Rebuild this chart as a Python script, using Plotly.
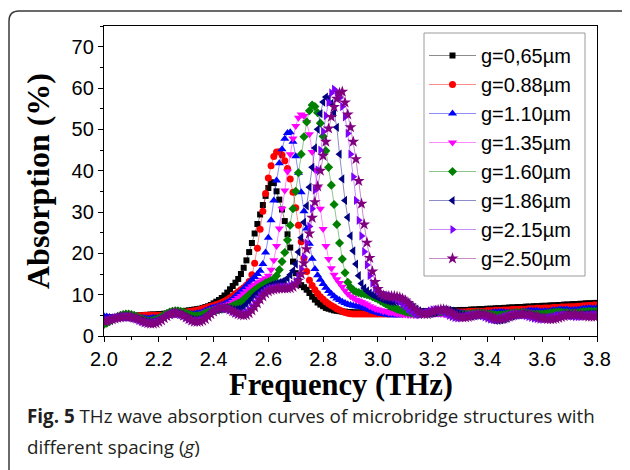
import numpy as np
import plotly.graph_objects as go

# Frequency grid (THz), 0.01 THz sampling
freq = np.round(2.0 + 0.01 * np.arange(181), 2)

labels = ["g=0,65µm", "g=0.88µm", "g=1.10µm", "g=1.35µm",
          "g=1.60µm", "g=1.86µm", "g=2.15µm", "g=2.50µm"]

g065 = [4.5, 4.5, 4.5, 4.6, 4.6, 4.6, 4.7, 4.7, 4.7, 4.8,
        4.8, 4.9, 4.9, 5.0, 5.0, 5.1, 5.1, 5.2, 5.2, 5.2,
        5.3, 5.3, 5.4, 5.4, 5.5, 5.6, 5.7, 5.8, 5.9, 6.0,
        6.1, 6.2, 6.3, 6.4, 6.5, 6.6, 6.8, 7.0, 7.2, 7.5,
        7.9, 8.3, 8.7, 9.2, 9.8, 10.5, 11.3, 12.1, 12.9, 13.8,
        15.0, 16.5, 18.3, 20.3, 22.5, 24.8, 27.1, 29.4, 31.7, 33.9,
        35.8, 37.2, 37.0, 35.0, 33.0, 30.6, 27.8, 24.6, 21.4, 18.0,
        15.2, 13.3, 12.3, 11.8, 11.2, 10.4, 9.5, 8.8, 8.1, 7.6,
        7.2, 6.8, 6.6, 6.4, 6.2, 6.1, 6.0, 5.9, 5.9, 5.8,
        5.8, 5.7, 5.7, 5.7, 5.7, 5.7, 5.7, 5.7, 5.7, 5.7,
        5.7, 5.7, 5.7, 5.7, 5.7, 5.8, 5.8, 5.8, 5.8, 5.8,
        5.8, 5.8, 5.9, 5.9, 5.9, 5.9, 5.9, 6.0, 6.0, 6.0,
        6.0, 6.0, 6.1, 6.1, 6.1, 6.1, 6.2, 6.2, 6.2, 6.2,
        6.3, 6.3, 6.3, 6.3, 6.4, 6.4, 6.4, 6.5, 6.5, 6.5,
        6.6, 6.6, 6.6, 6.7, 6.7, 6.7, 6.8, 6.8, 6.9, 6.9,
        6.9, 7.0, 7.0, 7.0, 7.1, 7.1, 7.1, 7.2, 7.2, 7.2,
        7.3, 7.3, 7.3, 7.4, 7.4, 7.4, 7.5, 7.5, 7.6, 7.6,
        7.6, 7.7, 7.7, 7.7, 7.8, 7.8, 7.9, 7.9, 7.9, 8.0,
        8.0]

g088 = [4.4, 4.4, 4.4, 4.4, 4.5, 4.5, 4.5, 4.6, 4.6, 4.7,
        4.7, 4.8, 4.8, 4.9, 4.9, 5.0, 5.0, 5.0, 5.0, 5.0,
        5.0, 5.0, 5.1, 5.1, 5.2, 5.3, 5.4, 5.5, 5.6, 5.7,
        5.8, 5.9, 6.0, 6.1, 6.2, 6.4, 6.6, 6.8, 7.0, 7.2,
        7.4, 7.6, 7.8, 8.1, 8.4, 8.8, 9.2, 9.7, 10.2, 10.7,
        11.2, 11.7, 12.3, 13.2, 14.8, 17.6, 21.2, 25.8, 30.2, 34.5,
        38.2, 41.2, 43.4, 44.5, 44.6, 43.8, 42.4, 40.5, 38.0, 34.8,
        31.0, 26.8, 22.8, 18.8, 15.6, 13.5, 12.2, 11.2, 10.3, 9.5,
        8.9, 8.3, 7.8, 7.4, 7.0, 6.6, 6.3, 6.0, 5.7, 5.5,
        5.4, 5.3, 5.3, 5.3, 5.3, 5.3, 5.3, 5.3, 5.3, 5.3,
        5.3, 5.3, 5.3, 5.3, 5.3, 5.4, 5.4, 5.4, 5.4, 5.4,
        5.4, 5.4, 5.4, 5.5, 5.5, 5.5, 5.5, 5.5, 5.5, 5.5,
        5.6, 5.6, 5.6, 5.6, 5.6, 5.7, 5.7, 5.7, 5.7, 5.8,
        5.8, 5.8, 5.8, 5.9, 5.9, 5.9, 6.0, 6.0, 6.0, 6.0,
        6.1, 6.1, 6.1, 6.2, 6.2, 6.2, 6.3, 6.3, 6.3, 6.4,
        6.4, 6.4, 6.5, 6.5, 6.5, 6.6, 6.6, 6.6, 6.7, 6.7,
        6.7, 6.8, 6.8, 6.8, 6.9, 6.9, 6.9, 7.0, 7.0, 7.0,
        7.1, 7.1, 7.1, 7.2, 7.2, 7.3, 7.3, 7.4, 7.4, 7.5,
        7.5]

g110 = [4.8, 4.7, 4.6, 4.5, 4.5, 4.5, 4.5, 4.6, 4.6, 4.6,
        4.6, 4.5, 4.5, 4.4, 4.4, 4.3, 4.3, 4.3, 4.4, 4.4,
        4.5, 4.6, 4.8, 5.0, 5.2, 5.3, 5.4, 5.4, 5.4, 5.4,
        5.4, 5.4, 5.4, 5.4, 5.5, 5.6, 5.8, 6.1, 6.4, 6.7,
        6.9, 7.1, 7.3, 7.5, 7.8, 8.1, 8.5, 9.0, 9.6, 10.2,
        10.8, 11.5, 12.2, 12.9, 13.6, 14.3, 15.0, 15.8, 17.4, 20.2,
        23.8, 28.0, 32.8, 37.6, 41.8, 45.2, 47.7, 49.1, 49.3, 47.0,
        43.5, 39.5, 34.8, 30.2, 26.0, 22.3, 18.7, 16.2, 14.7, 13.6,
        12.6, 11.7, 10.9, 10.2, 9.6, 9.1, 8.7, 8.3, 8.0, 7.7,
        7.5, 7.3, 7.2, 7.1, 7.0, 6.8, 6.6, 6.3, 6.0, 5.8,
        5.6, 5.4, 5.3, 5.2, 5.1, 5.0, 5.0, 5.0, 5.0, 5.1,
        5.1, 5.2, 5.2, 5.3, 5.3, 5.3, 5.3, 5.3, 5.2, 5.2,
        5.2, 5.2, 5.2, 5.3, 5.3, 5.4, 5.5, 5.5, 5.6, 5.6,
        5.6, 5.5, 5.5, 5.4, 5.4, 5.3, 5.3, 5.3, 5.4, 5.4,
        5.5, 5.6, 5.7, 5.8, 5.8, 5.8, 5.8, 5.7, 5.7, 5.7,
        5.7, 5.7, 5.8, 5.9, 6.0, 6.1, 6.1, 6.1, 6.1, 6.0,
        6.0, 6.0, 6.0, 6.1, 6.2, 6.3, 6.4, 6.4, 6.4, 6.4,
        6.3, 6.3, 6.3, 6.4, 6.5, 6.6, 6.7, 6.7, 6.7, 6.7,
        6.7]

g135 = [3.6, 3.7, 3.8, 4.0, 4.2, 4.3, 4.5, 4.6, 4.6, 4.6,
        4.5, 4.4, 4.2, 4.0, 3.8, 3.7, 3.6, 3.6, 3.7, 3.9,
        4.1, 4.4, 4.7, 5.0, 5.2, 5.4, 5.5, 5.5, 5.4, 5.3,
        5.1, 5.0, 4.9, 4.9, 5.0, 5.2, 5.4, 5.7, 6.0, 6.3,
        6.5, 6.7, 6.9, 7.1, 7.3, 7.5, 7.8, 8.2, 8.7, 9.2,
        9.7, 10.3, 10.9, 11.5, 12.0, 12.4, 12.8, 13.2, 13.6, 14.0,
        14.6, 16.0, 18.3, 21.8, 26.0, 30.8, 35.2, 39.8, 44.0, 47.8,
        50.8, 52.8, 53.6, 53.2, 51.8, 48.8, 44.5, 40.2, 35.8, 30.8,
        25.9, 21.8, 18.6, 16.4, 14.8, 13.7, 12.8, 11.9, 11.0, 10.2,
        9.6, 9.2, 8.8, 8.5, 8.2, 7.9, 7.6, 7.2, 6.9, 6.6,
        6.4, 6.2, 6.0, 5.9, 5.7, 5.6, 5.5, 5.4, 5.3, 5.2,
        5.2, 5.1, 5.1, 5.1, 5.1, 5.2, 5.2, 5.3, 5.3, 5.4,
        5.4, 5.4, 5.4, 5.3, 5.3, 5.2, 5.1, 5.1, 5.0, 5.0,
        5.0, 5.1, 5.1, 5.2, 5.3, 5.3, 5.4, 5.4, 5.3, 5.3,
        5.2, 5.1, 5.0, 4.9, 4.9, 4.9, 5.0, 5.1, 5.2, 5.3,
        5.4, 5.4, 5.5, 5.5, 5.4, 5.3, 5.2, 5.1, 5.0, 5.0,
        5.0, 5.0, 5.1, 5.2, 5.3, 5.4, 5.5, 5.5, 5.5, 5.5,
        5.4, 5.4, 5.4, 5.4, 5.5, 5.5, 5.6, 5.6, 5.7, 5.7,
        5.7]

g160 = [2.8, 3.1, 3.5, 3.9, 4.3, 4.7, 5.0, 5.2, 5.3, 5.3,
        5.2, 5.0, 4.7, 4.4, 4.1, 3.8, 3.7, 3.7, 3.8, 4.0,
        4.3, 4.7, 5.1, 5.5, 5.8, 6.0, 6.1, 6.1, 6.0, 5.8,
        5.5, 5.2, 5.0, 4.9, 4.9, 5.0, 5.2, 5.5, 5.8, 6.0,
        6.2, 6.3, 6.4, 6.5, 6.6, 6.8, 7.0, 7.3, 7.6, 7.9,
        8.3, 8.8, 9.4, 10.0, 10.6, 11.1, 11.6, 12.0, 12.4, 12.8,
        13.1, 13.4, 13.8, 14.6, 16.0, 18.0, 20.2, 23.2, 26.8, 30.8,
        35.0, 39.5, 44.0, 48.2, 51.8, 54.5, 55.9, 55.5, 54.0, 51.5,
        48.3, 44.8, 40.8, 36.5, 31.8, 27.0, 22.5, 18.6, 15.3, 13.0,
        11.8, 11.1, 10.7, 10.5, 10.3, 10.2, 10.0, 9.8, 9.5, 9.2,
        8.9, 8.5, 8.1, 7.7, 7.4, 7.1, 6.8, 6.5, 6.3, 6.1,
        5.9, 5.7, 5.6, 5.5, 5.4, 5.4, 5.4, 5.4, 5.5, 5.5,
        5.6, 5.7, 5.8, 5.8, 5.8, 5.7, 5.6, 5.5, 5.4, 5.3,
        5.2, 5.2, 5.2, 5.3, 5.4, 5.5, 5.6, 5.6, 5.6, 5.5,
        5.4, 5.3, 5.2, 5.1, 5.1, 5.1, 5.2, 5.3, 5.4, 5.5,
        5.6, 5.7, 5.7, 5.7, 5.6, 5.5, 5.4, 5.3, 5.3, 5.3,
        5.3, 5.4, 5.5, 5.6, 5.7, 5.8, 5.8, 5.8, 5.7, 5.7,
        5.6, 5.6, 5.6, 5.7, 5.8, 5.9, 5.9, 6.0, 6.0, 6.0,
        6.0]

g186 = [3.9, 4.0, 4.1, 4.3, 4.4, 4.5, 4.6, 4.6, 4.6, 4.5,
        4.4, 4.2, 4.0, 3.8, 3.6, 3.4, 3.3, 3.3, 3.4, 3.6,
        3.9, 4.2, 4.6, 5.0, 5.3, 5.4, 5.4, 5.3, 5.1, 4.8,
        4.5, 4.2, 4.0, 3.9, 3.9, 4.0, 4.3, 4.7, 5.2, 5.7,
        6.1, 6.4, 6.6, 6.7, 6.7, 6.6, 6.5, 6.4, 6.4, 6.5,
        6.7, 7.1, 7.7, 8.4, 9.1, 9.8, 10.4, 10.9, 11.3, 11.7,
        12.0, 12.3, 12.5, 12.7, 12.9, 13.1, 13.4, 14.0, 14.8, 15.8,
        17.4, 20.3, 23.8, 27.5, 31.5, 36.0, 40.8, 45.5, 50.0, 53.8,
        56.6, 57.8, 57.5, 56.3, 54.0, 50.5, 44.0, 38.0, 32.8, 28.7,
        24.2, 20.6, 17.4, 14.6, 12.7, 11.6, 10.9, 10.4, 10.0, 9.7,
        9.4, 9.1, 8.8, 8.6, 8.4, 8.3, 8.3, 8.3, 8.3, 8.2,
        8.0, 7.7, 7.3, 6.9, 6.5, 6.1, 5.8, 5.6, 5.5, 5.5,
        5.6, 5.8, 6.0, 6.2, 6.3, 6.3, 6.2, 6.0, 5.8, 5.5,
        5.2, 5.0, 4.9, 4.8, 4.8, 4.9, 5.0, 5.0, 4.9, 4.7,
        4.4, 4.1, 3.9, 3.8, 3.8, 3.9, 4.1, 4.3, 4.6, 4.8,
        5.0, 5.1, 5.2, 5.2, 5.1, 5.0, 4.8, 4.6, 4.5, 4.4,
        4.3, 4.3, 4.4, 4.5, 4.7, 4.9, 5.0, 5.1, 5.1, 5.1,
        5.0, 4.9, 4.9, 4.9, 5.0, 5.1, 5.2, 5.3, 5.3, 5.3,
        5.3]

g215 = [3.7, 3.8, 3.9, 4.1, 4.3, 4.4, 4.5, 4.6, 4.6, 4.6,
        4.5, 4.3, 4.1, 3.8, 3.5, 3.3, 3.2, 3.1, 3.2, 3.3,
        3.6, 4.0, 4.4, 4.9, 5.2, 5.4, 5.5, 5.4, 5.2, 4.9,
        4.5, 4.1, 3.8, 3.6, 3.6, 3.7, 3.9, 4.3, 4.8, 5.4,
        5.9, 6.3, 6.6, 6.8, 6.8, 6.6, 6.3, 5.9, 5.6, 5.4,
        5.3, 5.4, 5.7, 6.3, 7.1, 8.0, 8.9, 9.7, 10.4, 10.9,
        11.3, 11.5, 11.6, 11.7, 11.8, 11.8, 11.8, 11.9, 12.1, 12.5,
        13.2, 14.4, 16.2, 19.1, 22.5, 26.5, 30.8, 35.3, 40.2, 45.0,
        49.5, 53.3, 56.5, 58.8, 59.7, 59.0, 57.6, 55.5, 53.0, 49.0,
        44.0, 38.5, 32.8, 28.0, 24.2, 20.4, 17.2, 14.6, 12.8, 11.6,
        10.8, 10.3, 10.0, 9.8, 9.7, 9.5, 9.2, 8.8, 8.3, 7.7,
        7.1, 6.5, 6.0, 5.6, 5.3, 5.2, 5.3, 5.5, 5.8, 6.1,
        6.3, 6.4, 6.3, 6.1, 5.8, 5.4, 5.0, 4.7, 4.5, 4.4,
        4.4, 4.5, 4.7, 4.9, 5.1, 5.2, 5.2, 5.1, 4.9, 4.6,
        4.3, 4.1, 4.0, 4.0, 4.1, 4.3, 4.6, 4.8, 5.0, 5.2,
        5.3, 5.3, 5.2, 5.1, 4.9, 4.7, 4.5, 4.3, 4.2, 4.1,
        4.1, 4.2, 4.3, 4.5, 4.7, 4.9, 5.0, 5.1, 5.1, 5.0,
        4.9, 4.8, 4.7, 4.7, 4.7, 4.8, 4.9, 5.0, 5.1, 5.1,
        5.1]

g250 = [3.5, 3.6, 3.8, 4.0, 4.2, 4.4, 4.5, 4.6, 4.7, 4.7,
        4.6, 4.4, 4.2, 3.9, 3.6, 3.3, 3.1, 3.0, 3.0, 3.1,
        3.4, 3.8, 4.3, 4.8, 5.2, 5.5, 5.6, 5.5, 5.3, 4.9,
        4.5, 4.1, 3.7, 3.5, 3.4, 3.5, 3.7, 4.1, 4.7, 5.3,
        5.9, 6.4, 6.7, 6.9, 6.9, 6.7, 6.4, 6.0, 5.6, 5.3,
        5.1, 5.0, 5.1, 5.5, 6.2, 7.0, 7.9, 8.8, 9.6, 10.3,
        10.8, 11.1, 11.3, 11.4, 11.5, 11.5, 11.5, 11.5, 11.6, 11.9,
        12.4, 13.4, 15.0, 17.6, 21.0, 24.8, 28.6, 32.4, 36.2, 40.0,
        43.6, 47.0, 50.2, 53.0, 55.4, 57.4, 58.8, 59.1, 56.5, 53.6,
        50.5, 47.0, 42.8, 37.5, 32.0, 27.0, 22.6, 18.9, 15.6, 13.1,
        11.4, 10.3, 9.8, 9.6, 9.6, 9.6, 9.6, 9.5, 9.3, 9.0,
        8.6, 8.0, 7.4, 6.8, 6.2, 5.7, 5.4, 5.3, 5.3, 5.5,
        5.8, 6.1, 6.3, 6.4, 6.4, 6.2, 5.9, 5.5, 5.1, 4.8,
        4.6, 4.5, 4.5, 4.6, 4.8, 5.0, 5.2, 5.3, 5.3, 5.2,
        5.0, 4.7, 4.4, 4.2, 4.1, 4.1, 4.2, 4.4, 4.7, 4.9,
        5.1, 5.2, 5.3, 5.3, 5.3, 5.2, 5.1, 4.9, 4.7, 4.5,
        4.3, 4.2, 4.1, 4.1, 4.1, 4.2, 4.4, 4.6, 4.8, 5.0,
        5.1, 5.2, 5.2, 5.1, 5.0, 4.9, 4.8, 4.7, 4.7, 4.7,
        4.8]

series = [g065, g088, g110, g135, g160, g186, g215, g250]
colors = ["#000000", "#FF0000", "#0000FF", "#FF00FF",
          "#008000", "#000080", "#8000FF", "#800080"]
line_colors = ["rgba(0,0,0,0.45)", "rgba(255,0,0,0.45)", "rgba(0,0,255,0.45)",
               "rgba(255,0,255,0.45)", "rgba(0,128,0,0.45)", "rgba(0,0,128,0.45)",
               "rgba(128,0,255,0.45)", "rgba(128,0,128,0.45)"]
symbols = ["square", "circle", "triangle-up", "triangle-down",
           "diamond", "triangle-left", "triangle-right", "star"]
sizes = [6, 7, 8, 8, 7, 8, 8, 9]

fig = go.Figure()
for lab, ys, c, lc, s, sz in zip(labels, series, colors, line_colors, symbols, sizes):
    fig.add_trace(go.Scatter(
        x=freq, y=ys, name=lab, mode="lines+markers",
        line=dict(color=lc, width=1),
        marker=dict(symbol=s, size=sz, color=c, line=dict(width=0)),
    ))

# The page body has an 8px default margin, so the figure is drawn 8px smaller and
# positions below are given in page pixels (plot area: x 104..597, y 26..336).
def px(xp):
    return (xp - 104) / 493.0

def py(yp):
    return (336 - yp) / 310.0

frame_path = (f"M {px(9)},{py(480)} L {px(9)},{py(21)} "
              f"Q {px(9)},{py(11)} {px(19)},{py(11)} L {px(650)},{py(11)}")

fig.update_layout(
    width=622, height=462,
    margin=dict(l=96, r=33, t=18, b=134),
    paper_bgcolor="white", plot_bgcolor="white",
    showlegend=True,
    legend=dict(
        x=px(424), y=py(36), xanchor="left", yanchor="top",
        bgcolor="rgba(0,0,0,0)", borderwidth=0,
        font=dict(family="Liberation Sans, Arial, sans-serif", size=20, color="black"),
        itemwidth=47, tracegroupgap=0,
    ),
    xaxis=dict(
        range=[2.0, 3.8], dtick=0.2, tick0=2.0, tickformat=".1f",
        showline=True, linecolor="black", linewidth=1.3, mirror=True,
        ticks="outside", ticklen=5, tickwidth=1.2, tickcolor="black",
        minor=dict(dtick=0.1, ticks="outside", ticklen=3, tickcolor="black", tickwidth=1),
        showgrid=False, zeroline=False,
        tickfont=dict(family="Liberation Sans, Arial, sans-serif", size=20, color="black"),
    ),
    yaxis=dict(
        range=[0, 75], dtick=10, tick0=0,
        showline=True, linecolor="black", linewidth=1.3, mirror=True,
        ticks="outside", ticklen=5, tickwidth=1.2, tickcolor="black",
        minor=dict(dtick=5, ticks="outside", ticklen=3, tickcolor="black", tickwidth=1),
        showgrid=False, zeroline=False,
        tickfont=dict(family="Liberation Sans, Arial, sans-serif", size=20, color="black"),
        title=dict(text="<b>Absorption (%)</b>", standoff=12,
                   font=dict(family="Liberation Serif, Times New Roman, serif", size=32, color="black")),
    ),
    shapes=[
        dict(type="path", xref="paper", yref="paper", path=frame_path,
             line=dict(color="#3a3a3a", width=1.5), layer="above"),
        dict(type="rect", xref="paper", yref="paper",
             x0=px(424), x1=px(585), y0=py(276), y1=py(33),
             line=dict(color="#9a9a9a", width=1), fillcolor="white", layer="below"),
    ],
    annotations=[
        dict(xref="paper", yref="paper", x=px(341), y=py(385), xanchor="center", yanchor="middle",
             text="<b>Frequency (THz)</b>", showarrow=False, borderpad=0,
             font=dict(family="Liberation Serif, Times New Roman, serif", size=30.5, color="black")),
        dict(xref="paper", yref="paper", x=px(26), y=py(416), xanchor="left", yanchor="middle",
             text="<b>Fig. 5</b> THz wave absorption curves of microbridge structures with",
             showarrow=False, align="left", borderpad=0,
             font=dict(family="Open Sans, Noto Sans, sans-serif", size=18.8, color="#231f20")),
        dict(xref="paper", yref="paper", x=px(26), y=py(447), xanchor="left", yanchor="middle",
             text="different spacing (<i>g</i>)",
             showarrow=False, align="left", borderpad=0,
             font=dict(family="Open Sans, Noto Sans, sans-serif", size=18.8, color="#231f20")),
    ],
)

fig.write_html("out.html")
